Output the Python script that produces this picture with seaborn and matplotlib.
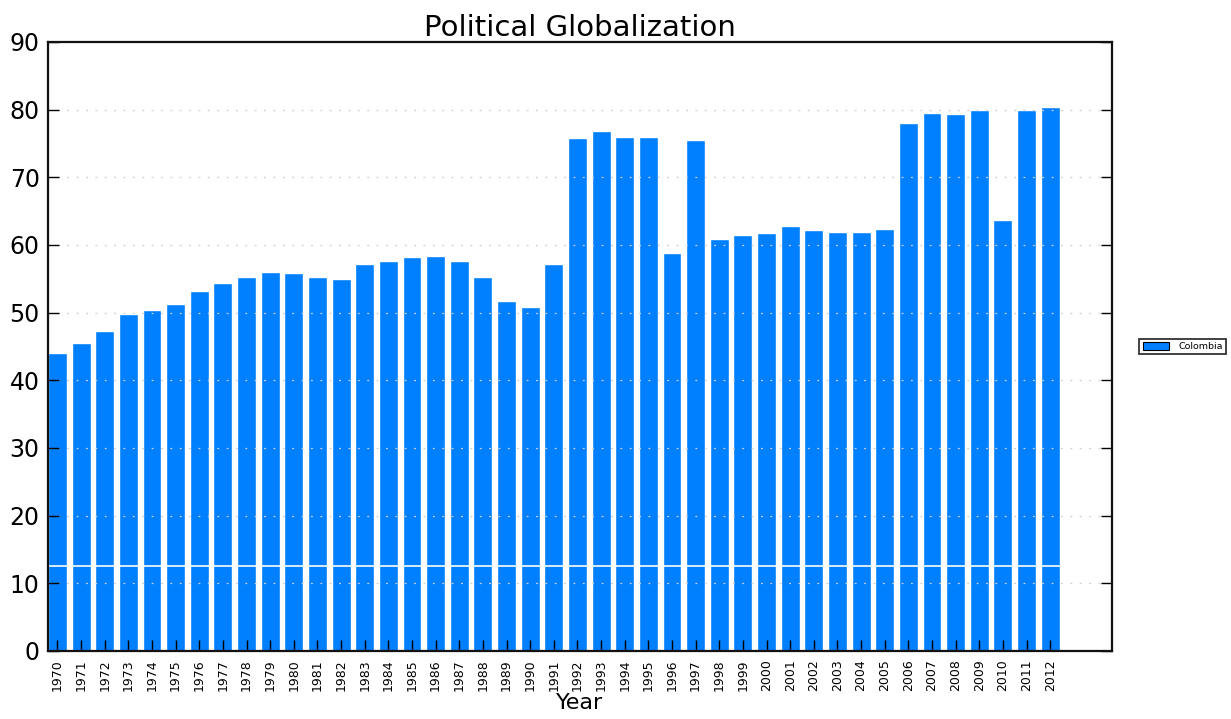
import pandas as pd
import matplotlib
matplotlib.use("Agg")
import matplotlib.pyplot as plt
import seaborn as sns

years = list(range(1970, 2013))
values = [44.0, 45.5, 47.3, 49.8, 50.4, 51.3, 53.2, 54.4, 55.3, 56.0,
          55.9, 55.3, 55.0, 57.2, 57.6, 58.2, 58.4, 57.6, 55.3, 51.7,
          50.8, 57.2, 75.8, 76.8, 76.0, 76.0, 58.8, 75.5, 60.9, 61.5,
          61.8, 62.8, 62.2, 61.9, 61.9, 62.4, 78.0, 79.5, 79.4, 80.0,
          63.7, 80.0, 80.4]
country = "Colombia"
yticks = list(range(0, 100, 10))


def main():
    df = pd.DataFrame({"Year": [str(y) for y in years], "Value": values})

    sns.set_style("white")
    plt.rcParams['font.family'] = ['DejaVu Sans']
    plt.rcParams['text.color'] = 'black'
    plt.rcParams['xtick.color'] = 'black'
    plt.rcParams['ytick.color'] = 'black'
    plt.rcParams['axes.labelcolor'] = 'black'

    fig = plt.figure(figsize=(12.31, 7.19), dpi=100)
    ax = fig.add_axes([0.039, 0.0946, 0.864, 0.847])

    sns.barplot(data=df, x="Year", y="Value", color="#007fff", saturation=1,
                width=0.8, label=country, ax=ax, zorder=2)

    ax.set_xlim(-0.4, 44.6)
    ax.set_ylim(0, 90)
    ax.set_yticks(yticks)
    ax.yaxis.grid(True, linestyle=(0, (1.5, 6)), color="#cfcfcf", linewidth=0.9, zorder=3)
    ax.set_axisbelow(False)
    ax.axhline(12.5, color="white", linewidth=1.2, zorder=4)

    for s in ax.spines.values():
        s.set_color("#111111")
        s.set_linewidth(1.6)
        s.set_zorder(6)

    ax.tick_params(axis="y", direction="in", length=8, width=1, labelsize=17,
                   left=True, right=True, pad=6)
    ax.tick_params(axis="x", direction="in", length=8, width=1, labelsize=9,
                   bottom=True, top=False, labelrotation=90, pad=6)

    ax.set_title("Political Globalization", fontsize=21, pad=4)
    ax.set_xlabel("Year", fontsize=16, labelpad=1)
    ax.set_ylabel("")

    leg = ax.legend(loc="center left", bbox_to_anchor=(1.026, 0.5), fontsize=6.8,
                    frameon=True, fancybox=False, borderpad=0.35, borderaxespad=0,
                    handlelength=2.8, handleheight=0.9, handletextpad=1.0)
    leg.get_frame().set_edgecolor("black")
    leg.get_frame().set_linewidth(1.3)
    for p in leg.get_patches():
        p.set_edgecolor("black")
        p.set_linewidth(0.8)

    fig.savefig("out.png", dpi=100)


if __name__ == "__main__":
    main()
